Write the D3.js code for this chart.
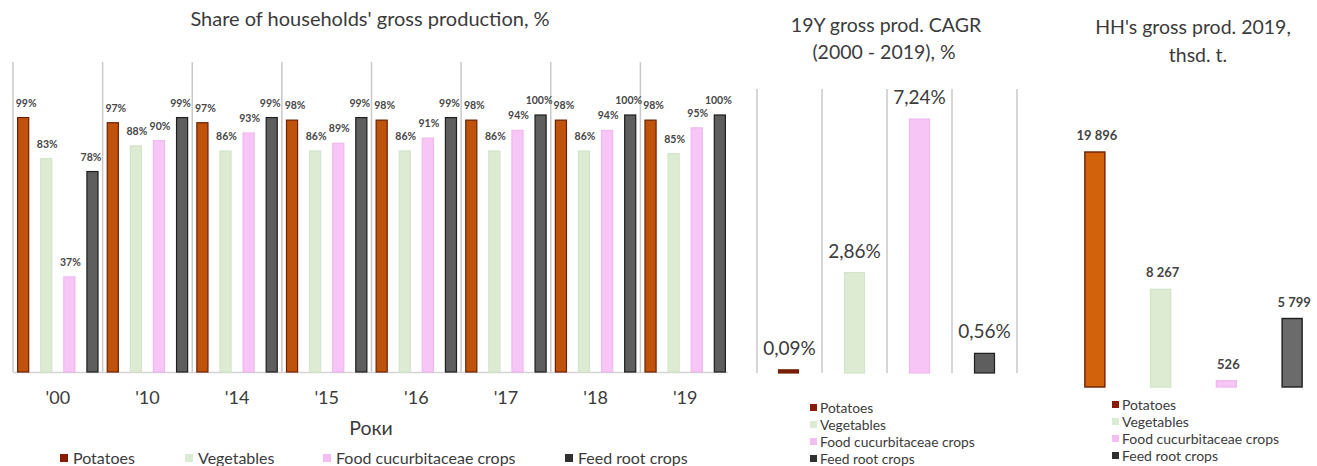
<!DOCTYPE html>
<html>
<head>
<meta charset="utf-8">
<script src="https://cdn.jsdelivr.net/npm/d3@7"></script>
<style>
  html, body { margin: 0; padding: 0; background: #fff; }
  svg { display: block; font-family: Lato, "Open Sans", sans-serif; }
</style>
</head>
<body>
<svg id="chart" width="1317" height="466"></svg>
<script>
// ---- data ----
const crops = ["Potatoes", "Vegetables", "Food cucurbitaceae crops", "Feed root crops"];
const years = ["'00", "'10", "'14", "'15", "'16", "'17", "'18", "'19"];
const sharePotatoes   = [99, 97, 97, 98, 98, 98, 98, 98];
const shareVegetables = [83, 88, 86, 86, 86, 86, 86, 85];
const shareCucurbit   = [37, 90, 93, 89, 91, 94, 94, 95];
const shareFeedRoot   = [78, 99, 99, 99, 99, 100, 100, 100];
const cagrValues  = [0.09, 2.86, 7.24, 0.56];
const cagrLabels  = ["0,09%", "2,86%", "7,24%", "0,56%"];
const prod2019    = [19896, 8267, 526, 5799];
const prodLabels  = ["19 896", "8 267", "526", "5 799"];

// ---- styles ----
const fills   = ["#C0530C", "#DDEBD3", "#F8C6F6", "#5E5E5E"];
const strokes = ["#6E2000", "#D3E4C9", "#EFB9EE", "#1E1E1E"];
const swatch  = ["#8A1C04", "#DCEBD3", "#F5BEF2", "#303030"];
const textCol = "#3b3b3b";
const gridCol = "#c9c9c9";
// small horizontal nudges for the crowded per-bar labels
const labelShift = [3, 1, 1, -1.5];

const svg = d3.select("#chart");

// ================= Left panel: share by year =================
const shares = [sharePotatoes, shareVegetables, shareCucurbit, shareFeedRoot];
const xYear = d3.scaleBand().domain(years).range([13, 730]);
const xCrop = d3.scaleBand().domain(crops).range([0, xYear.bandwidth()])
  .paddingInner(0.52).paddingOuter(0.2);
const yShare = d3.scaleLinear().domain([0, 100]).range([372, 115]);

const left = svg.append("g");

left.append("text")
  .attr("x", 370).attr("y", 26).attr("text-anchor", "middle")
  .attr("font-size", 20).attr("fill", textCol)
  .text("Share of households' gross production, %");

// group separators
left.selectAll("line.sep").data(years).join("line")
  .attr("class", "sep")
  .attr("x1", d => xYear(d)).attr("x2", d => xYear(d))
  .attr("y1", 62).attr("y2", yShare(0))
  .attr("stroke", gridCol).attr("stroke-width", 1.5);

// baseline
left.append("line")
  .attr("x1", xYear.range()[0]).attr("x2", xYear.range()[1] - 2)
  .attr("y1", yShare(0) + 0.5).attr("y2", yShare(0) + 0.5)
  .attr("stroke", "#d4d4d4").attr("stroke-width", 1.5);

const groups = left.selectAll("g.year").data(years).join("g")
  .attr("class", "year")
  .attr("transform", d => `translate(${xYear(d)},0)`);

groups.each(function(year, yi) {
  const g = d3.select(this);
  const recs = crops.map((c, ci) => ({ crop: c, ci, v: shares[ci][yi] }));
  g.selectAll("rect").data(recs).join("rect")
    .attr("x", d => xCrop(d.crop))
    .attr("y", d => yShare(d.v))
    .attr("width", xCrop.bandwidth())
    .attr("height", d => yShare(0) - yShare(d.v))
    .attr("fill", d => fills[d.ci])
    .attr("stroke", d => strokes[d.ci]).attr("stroke-width", 1.2);
  g.selectAll("text").data(recs).join("text")
    .attr("x", d => xCrop(d.crop) + xCrop.bandwidth() / 2 + labelShift[d.ci])
    .attr("y", d => yShare(d.v) - 11)
    .attr("text-anchor", "middle")
    .attr("font-size", 10.5).attr("font-weight", 700).attr("fill", "#474747")
    .text(d => d.v + "%");
});

// year axis
const axisYear = left.append("g")
  .attr("transform", `translate(0,${yShare(0)})`)
  .call(d3.axisBottom(xYear).tickSize(0).tickPadding(19));
axisYear.select(".domain").remove();
axisYear.selectAll("text")
  .attr("font-size", 18).attr("fill", textCol)
  .attr("font-family", "Lato, sans-serif");

left.append("text")
  .attr("x", 371).attr("y", 435).attr("text-anchor", "middle")
  .attr("font-size", 19.5).attr("fill", textCol).text("Роки");

// horizontal legend
const legLeftX = [60, 185, 323, 565];
const legLeft = left.selectAll("g.leg").data(crops).join("g")
  .attr("class", "leg")
  .attr("transform", (d, i) => `translate(${legLeftX[i]},458)`);
legLeft.append("rect")
  .attr("x", 0).attr("y", -4).attr("width", 8).attr("height", 8)
  .attr("fill", (d, i) => swatch[i]);
legLeft.append("text")
  .attr("x", 13).attr("y", 5.5)
  .attr("font-size", 16).attr("fill", textCol).text(d => d);

// vertical legend helper
function vLegend(g, x0, y0, step, size) {
  const items = g.selectAll("g.vleg").data(crops).join("g")
    .attr("class", "vleg")
    .attr("transform", (d, i) => `translate(${x0},${y0 + i * step})`);
  items.append("rect")
    .attr("x", 0).attr("y", -4).attr("width", 7).attr("height", 7)
    .attr("fill", (d, i) => swatch[i]);
  items.append("text")
    .attr("x", 10).attr("y", 4.5)
    .attr("font-size", size).attr("fill", textCol).text(d => d);
}

// ================= Middle panel: CAGR =================
const mid = svg.append("g");
const xMid = d3.scaleBand().domain(crops).range([757, 1017]);
const yMid = d3.scaleLinear().domain([0, 7.24]).range([373, 119]);

mid.append("text").attr("x", 886).attr("y", 32).attr("text-anchor", "middle")
  .attr("font-size", 19.5).attr("fill", textCol).text("19Y gross prod. CAGR");
mid.append("text").attr("x", 884).attr("y", 59).attr("text-anchor", "middle")
  .attr("font-size", 19.5).attr("fill", textCol).text("(2000 - 2019), %");

const midSeps = crops.map(c => xMid(c)).concat([xMid.range()[1]]);
mid.selectAll("line.sep").data(midSeps).join("line")
  .attr("class", "sep")
  .attr("x1", d => d).attr("x2", d => d)
  .attr("y1", 89).attr("y2", 373)
  .attr("stroke", gridCol).attr("stroke-width", 1.5);

const midBarW = 20;
mid.selectAll("rect.bar").data(cagrValues).join("rect")
  .attr("class", "bar")
  .attr("x", (d, i) => xMid(crops[i]) + xMid.bandwidth() / 2 - midBarW / 2 + (i === 0 ? -1 : 0))
  .attr("y", d => yMid(d))
  .attr("width", midBarW)
  .attr("height", d => Math.max(yMid(0) - yMid(d), 2.5))
  .attr("fill", (d, i) => i === 0 ? "#7A1A08" : fills[i])
  .attr("stroke", (d, i) => strokes[i]).attr("stroke-width", 1.2);

mid.selectAll("text.val").data(cagrValues).join("text")
  .attr("class", "val")
  .attr("x", (d, i) => xMid(crops[i]) + xMid.bandwidth() / 2)
  .attr("y", d => yMid(d) - 15)
  .attr("text-anchor", "middle")
  .attr("font-size", 19).attr("fill", textCol)
  .text((d, i) => cagrLabels[i]);

vLegend(mid, 810, 408, 17, 13.8);

// ================= Right panel: 2019 production =================
const right = svg.append("g");
const xRight = d3.scaleBand().domain(crops).range([1062, 1325]);
const yRight = d3.scaleLinear().domain([0, 19896]).range([387, 152]);

right.append("text").attr("x", 1193).attr("y", 34).attr("text-anchor", "middle")
  .attr("font-size", 19.5).attr("fill", textCol).text("HH's gross prod. 2019,");
right.append("text").attr("x", 1198).attr("y", 62).attr("text-anchor", "middle")
  .attr("font-size", 19.5).attr("fill", textCol).text("thsd. t.");

const rBarW = 20;
right.selectAll("rect.bar").data(prod2019).join("rect")
  .attr("class", "bar")
  .attr("x", (d, i) => xRight(crops[i]) + xRight.bandwidth() / 2 - rBarW / 2)
  .attr("y", d => yRight(d))
  .attr("width", rBarW)
  .attr("height", d => yRight(0) - yRight(d))
  .attr("fill", (d, i) => i === 0 ? "#D2620C" : (i === 3 ? "#6B6B6B" : fills[i]))
  .attr("stroke", (d, i) => strokes[i]).attr("stroke-width", 1.4);

right.selectAll("text.val").data(prod2019).join("text")
  .attr("class", "val")
  .attr("x", (d, i) => xRight(crops[i]) + xRight.bandwidth() / 2 + 2)
  .attr("y", d => yRight(d) - 12)
  .attr("text-anchor", "middle")
  .attr("font-size", 13).attr("font-weight", 700).attr("fill", "#444")
  .text((d, i) => prodLabels[i]);

vLegend(right, 1112, 405, 17, 14);
</script>
</body>
</html>
